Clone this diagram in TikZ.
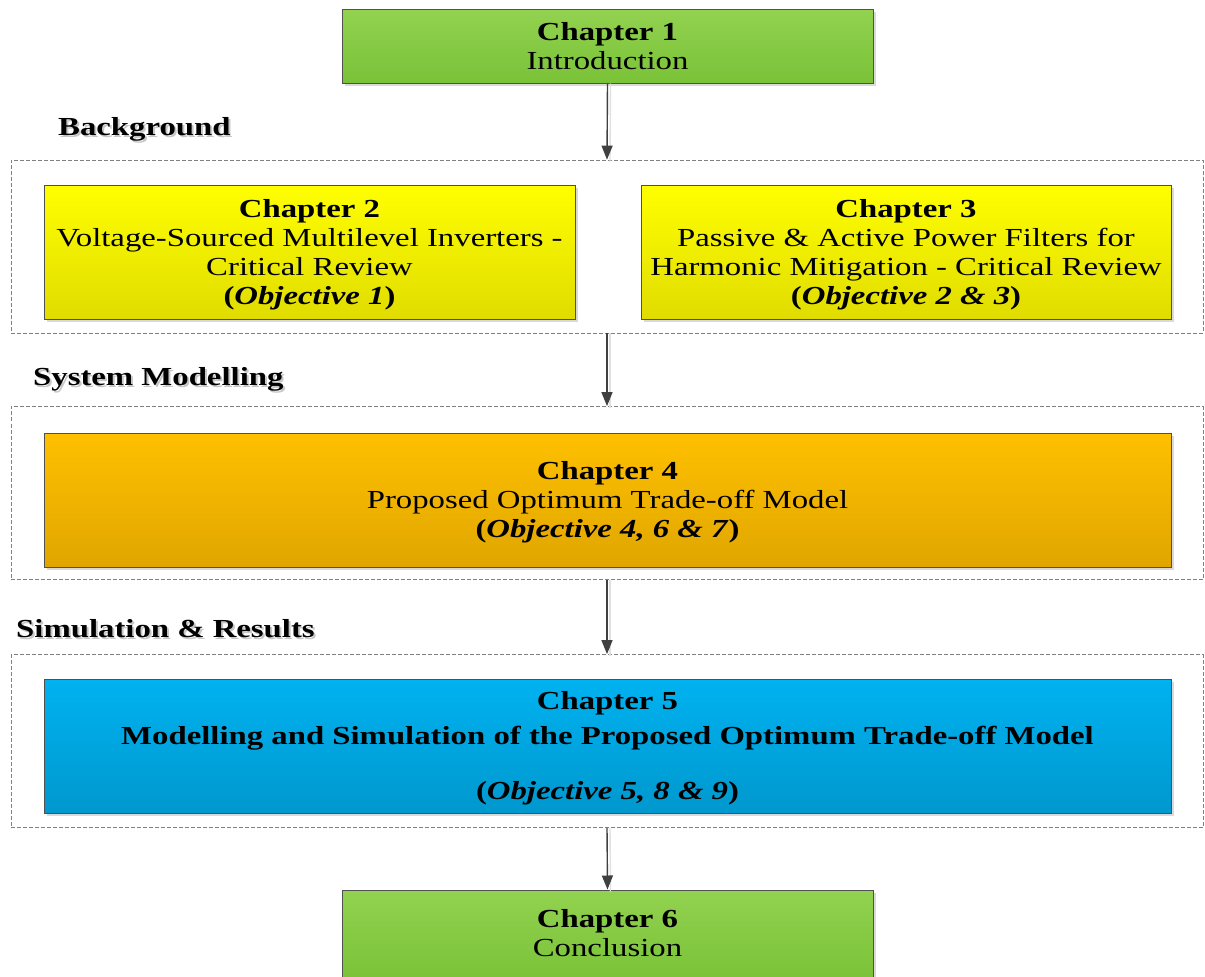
\documentclass[tikz,border=0pt]{standalone}
\usepackage{fontspec}
\setmainfont{Liberation Serif}[FakeStretch=1.26]
\usetikzlibrary{arrows.meta,shadows}

\definecolor{greenTop}{RGB}{146,210,80}
\definecolor{greenBot}{RGB}{122,194,56}
\definecolor{yellowTop}{RGB}{255,255,0}
\definecolor{yellowBot}{RGB}{224,220,0}
\definecolor{orangeTop}{RGB}{255,192,0}
\definecolor{orangeBot}{RGB}{224,166,0}
\definecolor{blueTop}{RGB}{0,178,240}
\definecolor{blueBot}{RGB}{0,152,206}
\definecolor{boxline}{RGB}{80,80,80}
\definecolor{arrowcol}{RGB}{64,64,64}

% invisible struts that nudge a text block inside its box
\newcommand\topstrut[1]{\rule{0pt}{#1}}
\newcommand\botstrut[1]{\rule[-#1]{0pt}{#1}}

\begin{document}
\begin{tikzpicture}[x=1pt,y=-1pt,
  txt/.style={font=\fontsize{26}{29}\selectfont},
  chbox/.style={txt, draw=boxline, line width=1pt, align=center, inner sep=0pt,
    drop shadow={shadow xshift=3pt,shadow yshift=-3pt,fill=black!15,opacity=1}},
  greenbox/.style={chbox, top color=greenTop, bottom color=greenBot},
  yellowbox/.style={chbox, top color=yellowTop, bottom color=yellowBot},
  orangebox/.style={chbox, top color=orangeTop, bottom color=orangeBot},
  bluebox/.style={chbox, top color=blueTop, bottom color=blueBot},
  frame/.style={draw=black!50, line width=0.8pt, dash pattern=on 4pt off 2pt,
    minimum width=1192pt, minimum height=173pt, inner sep=0pt},
  flow/.style={draw=arrowcol, line width=1.4pt,
    -{Triangle[length=14pt,width=11pt]}},
  flowshadow/.style={draw=black!12, line width=1.4pt},
  section/.style={txt, font=\fontsize{26}{29}\selectfont\bfseries, anchor=base west, inner sep=0pt},
  sectionshadow/.style={section, text=black!22}
]
\useasboundingbox (0,0) rectangle (1205,977);
\clip (0,0) rectangle (1205,977);

% dashed group frames
\node[frame] (frame1) at (607,246.5) {};
\node[frame] (frame2) at (607,493) {};
\node[frame] (frame3) at (607,741) {};

% group headings (with a soft shadow)
\node[sectionshadow] (bgS) at (60,137) {Background};
\node[section] (bg) at (58,135) {Background};
\node[sectionshadow] (smS) at (35,387) {System Modelling};
\node[section] (sm) at (33,385) {System Modelling};
\node[sectionshadow] (srS) at (18,639) {Simulation \& Results};
\node[section] (sr) at (16,637) {Simulation \& Results};

% chapter boxes
\node[greenbox, minimum width=531pt, minimum height=74pt] (ch1) at (607.5,46)
  {\textbf{Chapter 1}\\Introduction};

\node[yellowbox, minimum width=531pt, minimum height=134pt] (ch2) at (309.5,252)
  {\topstrut{24pt}\textbf{Chapter 2}\\Voltage-Sourced Multilevel Inverters -\\Critical Review\\\textbf{(\textit{Objective 1})}};

\node[yellowbox, minimum width=530pt, minimum height=134pt] (ch3) at (906,252)
  {\topstrut{24pt}\textbf{Chapter 3}\\Passive \& Active Power Filters for\\Harmonic Mitigation - Critical Review\\\textbf{(\textit{Objective 2 \& 3})}};

\node[orangebox, minimum width=1127pt, minimum height=134pt] (ch4) at (607.5,500)
  {\topstrut{22pt}\textbf{Chapter 4}\\Proposed Optimum Trade-off Model\\\textbf{(\textit{Objective 4, 6 \& 7})}};

\node[bluebox, minimum width=1127pt, minimum height=134pt] (ch5) at (607.5,746)
  {\topstrut{22pt}\textbf{Chapter 5}\\[6pt]\textbf{Modelling and Simulation of the Proposed Optimum Trade-off Model}\\[26pt]\textbf{(\textit{Objective 5, 8 \& 9})}};

\node[greenbox, minimum width=531pt, minimum height=90pt] (ch6) at (607.5,935)
  {\textbf{Chapter 6}\\Conclusion\botstrut{4pt}};

% connectors, each with a faint offset shadow
\draw[flowshadow] ([xshift=3pt]ch1.south) -- ([xshift=3pt,yshift=-2pt]frame1.north);
\draw[flow] (ch1.south) -- (frame1.north);
\draw[flowshadow] ([xshift=3pt]frame1.south) -- ([xshift=3pt,yshift=-2pt]frame2.north);
\draw[flow] (frame1.south) -- (frame2.north);
\draw[flowshadow] ([xshift=3pt]frame2.south) -- ([xshift=3pt,yshift=-2pt]frame3.north);
\draw[flow] (frame2.south) -- (frame3.north);
\draw[flowshadow] ([xshift=3pt]frame3.south) -- ([xshift=3pt,yshift=-2pt]ch6.north);
\draw[flow] (frame3.south) -- (ch6.north);
\end{tikzpicture}
\end{document}
